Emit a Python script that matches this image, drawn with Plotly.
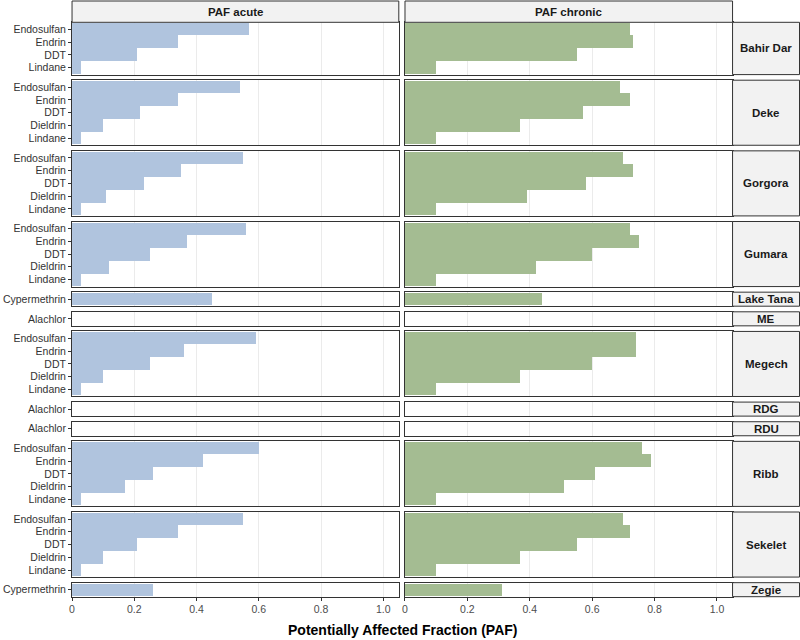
import plotly.graph_objects as go

# ---------------- data (long form) ----------------
site = (["Bahir Dar"] * 4 + ["Deke"] * 5 + ["Gorgora"] * 5 + ["Gumara"] * 5 +
        ["Lake Tana"] + ["ME"] + ["Megech"] * 5 + ["RDG"] + ["RDU"] +
        ["Ribb"] * 5 + ["Sekelet"] * 5 + ["Zegie"])
pesticide = (["Endosulfan", "Endrin", "DDT", "Lindane"] +
             ["Endosulfan", "Endrin", "DDT", "Dieldrin", "Lindane"] * 3 +
             ["Cypermethrin"] + ["Alachlor"] +
             ["Endosulfan", "Endrin", "DDT", "Dieldrin", "Lindane"] +
             ["Alachlor"] + ["Alachlor"] +
             ["Endosulfan", "Endrin", "DDT", "Dieldrin", "Lindane"] * 2 +
             ["Cypermethrin"])
paf_acute = ([0.57, 0.34, 0.21, 0.03] +
             [0.54, 0.34, 0.22, 0.10, 0.03] +
             [0.55, 0.35, 0.23, 0.11, 0.03] +
             [0.56, 0.37, 0.25, 0.12, 0.03] +
             [0.45] + [0.0] +
             [0.59, 0.36, 0.25, 0.10, 0.03] +
             [0.0] + [0.0] +
             [0.60, 0.42, 0.26, 0.17, 0.03] +
             [0.55, 0.34, 0.21, 0.10, 0.03] +
             [0.26])
paf_chronic = ([0.72, 0.73, 0.55, 0.10] +
               [0.69, 0.72, 0.57, 0.37, 0.10] +
               [0.70, 0.73, 0.58, 0.39, 0.10] +
               [0.72, 0.75, 0.60, 0.42, 0.10] +
               [0.44] + [0.0] +
               [0.74, 0.74, 0.60, 0.37, 0.10] +
               [0.0] + [0.0] +
               [0.76, 0.79, 0.61, 0.51, 0.10] +
               [0.70, 0.72, 0.55, 0.37, 0.10] +
               [0.31])

site_order = ["Bahir Dar", "Deke", "Gorgora", "Gumara", "Lake Tana", "ME",
              "Megech", "RDG", "RDU", "Ribb", "Sekelet", "Zegie"]
pest_order = ["Endosulfan", "Endrin", "DDT", "Dieldrin", "Lindane",
              "Cypermethrin", "Alachlor"]  # top to bottom
col_titles = ["PAF acute", "PAF chronic"]
x_ticks = [0, 0.2, 0.4, 0.6, 0.8, 1.0]
x_ticktext = ["0", "0.2", "0.4", "0.6", "0.8", "1.0"]
x_title = "Potentially Affected Fraction (PAF)"

# ---------------- styling ----------------
W, H = 800, 640
FONT = "Liberation Sans, Arial, sans-serif"
colors = ["#B0C4DE", "#A4BC92"]
col_px = [(69.3, 397.3), (403.5, 732.3)]
strip_right = (732.3, 799.5)
top_px, bottom_px, gap_px = 22.3, 596.7, 5.6
pad = 0.05  # extra category units on each side

def px_x(v):
    return v / W

def px_y(v):
    return 1 - v / H

# per-site categories
site_cats = []
for s in site_order:
    cats = [p for p in pest_order if any(ss == s and pp == p for ss, pp in zip(site, pesticide))]
    site_cats.append(cats)

units = [len(c) + 2 * pad for c in site_cats]
avail = (bottom_px - top_px) - gap_px * (len(site_order) - 1)
u = avail / sum(units)

fig = go.Figure()
layout = dict(
    width=W, height=H, margin=dict(l=0, r=0, t=0, b=0),
    plot_bgcolor="white", paper_bgcolor="white", showlegend=False,
    bargap=0, font=dict(family=FONT, color="#333333"),
)
shapes, annotations = [], []

y_cursor = top_px
for i, s in enumerate(site_order):
    cats = site_cats[i]
    n = len(cats)
    h = units[i] * u
    y0, y1 = y_cursor, y_cursor + h
    y_cursor = y1 + gap_px
    last = (i == len(site_order) - 1)
    for j in range(2):
        k = 2 * i + j + 1
        xs = "" if k == 1 else str(k)
        vals = paf_acute if j == 0 else paf_chronic
        xv = [v for ss, v in zip(site, vals) if ss == s]
        yv = [p for ss, p in zip(site, pesticide) if ss == s]
        fig.add_trace(go.Bar(
            x=xv, y=yv, orientation="h", width=1,
            marker=dict(color=colors[j], line=dict(width=0)),
            xaxis="x" + xs, yaxis="y" + xs, hoverinfo="x+y",
        ))
        layout["xaxis" + xs] = dict(
            domain=[px_x(col_px[j][0]), px_x(col_px[j][1])],
            anchor="y" + xs, range=[0, 1.05],
            tickmode="array", tickvals=x_ticks, ticktext=x_ticktext,
            showgrid=True, gridcolor="#EBEBEB", gridwidth=1, zeroline=False,
            showline=True, mirror=True, linecolor="#333333", linewidth=1,
            ticks="outside" if last else "", ticklen=3, tickcolor="#333333",
            showticklabels=last,
            tickfont=dict(size=10.5, color="#4D4D4D", family=FONT),
        )
        layout["yaxis" + xs] = dict(
            domain=[px_y(y1), px_y(y0)], anchor="x" + xs,
            type="category", categoryorder="array",
            categoryarray=list(reversed(cats)),
            tickmode="array", tickvals=cats, ticktext=cats,
            range=[-0.5 - pad, n - 0.5 + pad],
            showgrid=False, zeroline=False,
            showline=True, mirror=True, linecolor="#333333", linewidth=1,
            ticks="outside" if j == 0 else "", ticklen=3, tickcolor="#333333",
            showticklabels=(j == 0),
            tickfont=dict(size=10.5, color="#333333", family=FONT),
        )
    # right strip
    shapes.append(dict(type="rect", xref="paper", yref="paper",
                       x0=px_x(strip_right[0]), x1=px_x(strip_right[1]),
                       y0=px_y(y1), y1=px_y(y0),
                       fillcolor="#F2F2F2", line=dict(color="#333333", width=1)))
    annotations.append(dict(xref="paper", yref="paper",
                            x=px_x((strip_right[0] + strip_right[1]) / 2),
                            y=px_y((y0 + y1) / 2), text="<b>%s</b>" % s,
                            showarrow=False, xanchor="center", yanchor="middle",
                            font=dict(size=11.5, color="#1A1A1A", family=FONT)))

# top strips
for j in range(2):
    shapes.append(dict(type="rect", xref="paper", yref="paper",
                       x0=px_x(col_px[j][0]), x1=px_x(col_px[j][1]),
                       y0=px_y(top_px), y1=px_y(1.0),
                       fillcolor="#F2F2F2", line=dict(color="#333333", width=1)))
    annotations.append(dict(xref="paper", yref="paper",
                            x=px_x((col_px[j][0] + col_px[j][1]) / 2),
                            y=px_y((top_px + 1.0) / 2), text="<b>%s</b>" % col_titles[j],
                            showarrow=False, xanchor="center", yanchor="middle",
                            font=dict(size=11.5, color="#1A1A1A", family=FONT)))

# x-axis title
annotations.append(dict(xref="paper", yref="paper",
                        x=px_x((col_px[0][0] + col_px[1][1]) / 2), y=px_y(630),
                        text="<b>%s</b>" % x_title, showarrow=False,
                        xanchor="center", yanchor="middle",
                        font=dict(size=14, color="#000000", family=FONT)))

layout["shapes"] = shapes
layout["annotations"] = annotations
fig.update_layout(**layout)
fig.write_html("out.html")
